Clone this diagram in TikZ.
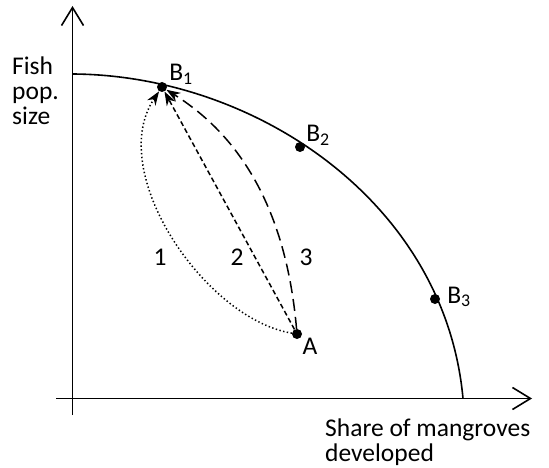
\documentclass[tikz,border=0pt]{standalone}
\usepackage{fontspec}
\setmainfont{Carlito}
\usetikzlibrary{arrows.meta}
\begin{document}
\begin{tikzpicture}[x=1pt,y=1pt,
  axis/.style={line width=1.6pt,-{Straight Barb[length=18pt,width=22pt,line width=1.6pt]}},
  frontier/.style={line width=1.6pt},
  dot/.style={circle,fill=black,inner sep=0pt,minimum size=10pt},
  lbl/.style={inner sep=0pt,font=\fontsize{25.5}{25}\selectfont},
  tip/.style={-{Stealth[length=14pt,width=10pt]}},
  path1/.style={tip,line width=1.5pt,dash pattern=on 1.4pt off 2.4pt},
  path2/.style={tip,line width=1.5pt,dash pattern=on 5pt off 3pt},
  path3/.style={tip,line width=1.5pt,dash pattern=on 12pt off 6pt}]
\useasboundingbox (0,0) rectangle (549,467);
% axes
\coordinate (yb) at (72.5,52);
\coordinate (yt) at (72.5,461);
\coordinate (xl) at (56,68.5);
\coordinate (xr) at (532,68.5);
\draw[axis] (yb) -- (yt);
\draw[axis] (xl) -- (xr);
% frontier
\coordinate (f0) at (72.5,393);
\coordinate (f1) at (463,68.5);
\draw[frontier] (f0) .. controls (255,392) and (445,265) .. (f1);
% points
\node[dot] (B1) at (162,380) {};
\node[dot] (B2) at (300,320) {};
\node[dot] (B3) at (435,168) {};
\node[dot] (A) at (297,133) {};
\node[lbl] (lB1) at (181,393) {B\textsubscript{1}};
\node[lbl] (lB2) at (318,332) {B\textsubscript{2}};
\node[lbl] (lB3) at (459,170) {B\textsubscript{3}};
\node[lbl] (lA) at (310,121) {A};
% paths
\draw[path1] (A) .. controls (205,148) and (105,295) .. (B1);
\draw[path2] (A) -- (B1);
\draw[path3] (A) to[out=95,in=-32,looseness=0.95] (B1);
\node[lbl] (n1) at (160,210) {1};
\node[lbl] (n2) at (237,210) {2};
\node[lbl] (n3) at (306,210) {3};
% axis labels
\node[lbl,anchor=base west,align=left] (ylab) at (12,343) {Fish\\pop.\\size};
\node[lbl,anchor=base west,align=left] (xlab) at (325,6) {Share of mangroves\\developed};
\end{tikzpicture}
\end{document}
